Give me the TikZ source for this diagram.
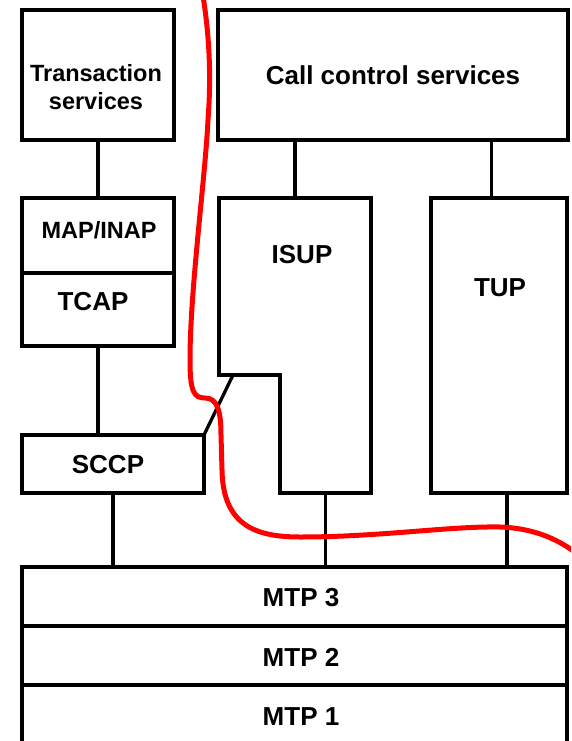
\documentclass[tikz,border=0pt]{standalone}
\usepackage{fontspec}
\setmainfont{Liberation Sans}
\usepackage{tikz}
\usetikzlibrary{positioning}

\begin{document}
\begin{tikzpicture}[
  x=1pt,y=-1pt,
  font=\bfseries\fontsize{26}{30}\selectfont,
  box/.style={rectangle,draw,line width=3.3pt,inner sep=0pt,outer sep=0pt},
  lbl/.style={inner sep=0pt,align=center},
  smalltxt/.style={font=\bfseries\fontsize{23.5}{28}\selectfont},
  link/.style={line width=3.3pt},
  cut/.style={red,line width=5pt}
]
\useasboundingbox (0,0) rectangle (571,741);
\clip (0,0) rectangle (571,741);

\node[box,minimum width=152pt,minimum height=130pt] (trans) at (98,75) {};
\node[box,minimum width=350pt,minimum height=130pt] (call) at (393,75) {Call control services};
\node[box,minimum width=152pt,minimum height=75pt] (mapinap) at (98,235.5) {};
\node[box,minimum width=152pt,minimum height=73pt,below=0pt of mapinap] (tcap) {};
\node[box,minimum width=182pt,minimum height=58pt] (sccp) at (113,464) {};
\node[box,minimum width=136pt,minimum height=295pt] (tup) at (499,345.5) {};
\node[box,minimum width=545pt,minimum height=59pt] (mtp3) at (294.5,596.5) {};
\node[box,minimum width=545pt,minimum height=59pt,below=0pt of mtp3] (mtp2) {};
\node[box,minimum width=545pt,minimum height=59pt,below=0pt of mtp2] (mtp1) {};

\coordinate (isupnw) at (219,198);
\coordinate (isupne) at (371,198);
\coordinate (isupse) at (371,493);
\coordinate (isupsw) at (280,493);
\coordinate (isupstep) at (280,375);
\coordinate (isupw) at (219,375);
\coordinate (isupcut) at (233,375);
\coordinate (isupin) at (295,198);
\coordinate (isupout) at (325.5,493);
\draw[link] (isupnw)--(isupne)--(isupse)--(isupsw)--(isupstep)--(isupw)--cycle;

\node[lbl,smalltxt] (transt) at (96,87.5) {Transaction\\services};
\node[lbl,smalltxt] (mapinapt) at (99,230) {MAP/INAP};
\node[lbl] (tcapt) at (93,302) {TCAP};
\node[lbl] (sccpt) at (108,465) {SCCP};
\node[lbl] (isupt) at (302,255) {ISUP};
\node[lbl] (tupt) at (500,288) {TUP};
\node[lbl] (mtp3t) at (301,598) {MTP 3};
\node[lbl] (mtp2t) at (301,657) {MTP 2};
\node[lbl] (mtp1t) at (301,717) {MTP 1};

\draw[link](trans)--(mapinap);
\draw[link](tcap.south)--(tcap.south |- sccp.north);
\draw[link](isupcut)--(sccp.north east);
\draw[link](isupin)--(isupin |- call.south);
\draw[link]([xshift=-7.5pt]tup.north)--([xshift=-7.5pt]tup.north |- call.south);
\draw[link](sccp.south)--(sccp.south |- mtp3.north);
\draw[link](isupout)--(isupout |- mtp3.north);
\draw[link]([xshift=8pt]tup.south)--([xshift=8pt]tup.south |- mtp3.north);

\draw[cut](203,-4) .. controls (210,40) and (211,80) .. (208,120)
  .. controls (205,180) and (190,290) .. (190,360)
  .. controls (190,392) and (194,398) .. (205,398)
  .. controls (217,398) and (221,410) .. (221,435)
  -- (222,470)
  .. controls (223,525) and (255,537) .. (300,537)
  .. controls (380,537) and (450,526) .. (500,527)
  .. controls (530,528) and (555,537) .. (576,553);
\end{tikzpicture}
\end{document}
